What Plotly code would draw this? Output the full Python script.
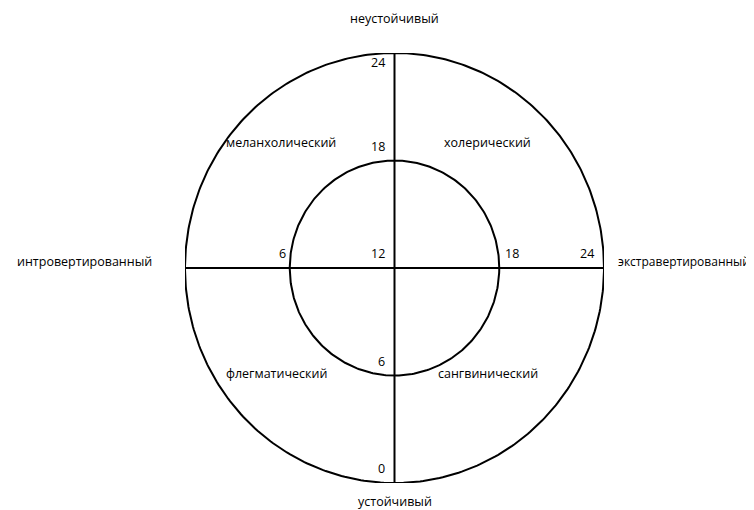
import numpy as np
import plotly.graph_objects as go

# Scale / data
center = [12, 12]
radii = [12, 6]               # outer, inner circle (score units)
vert_ticks = [24, 18, 12, 6, 0]
vert_tick_labels = ["24", "18", "12", "6", "0"]
horiz_ticks = [6, 18, 24]
horiz_tick_labels = ["6", "18", "24"]
axis_labels = ["неустойчивый", "устойчивый", "интровертированный", "экстравертированный"]
axis_label_pos = [(12, 25.95), (12, -1.05), (-5.75, 12.35), (32.45, 12.35)]
axis_label_anchor = ["center", "center", "center", "right"]
axis_label_size = [12.5, 12.5, 12.5, 12]
temperaments = ["меланхолический", "холерический", "флегматический", "сангвинический"]
temperament_pos = [(5.5, 19.0), (17.35, 19.0), (5.25, 6.1), (17.35, 6.1)]

FONT = "Open Sans"
XR = [0, 24]
YR = [0, 24]


def px(x):
    return (x - XR[0]) / (XR[1] - XR[0])


def py(y):
    return (y - YR[0]) / (YR[1] - YR[0])


fig = go.Figure()

t = np.linspace(0, 2 * np.pi, 400)
for r in radii:
    fig.add_trace(go.Scatter(x=center[0] + r * np.cos(t), y=center[1] + r * np.sin(t),
                             mode="lines", line=dict(color="black", width=2),
                             hoverinfo="skip", showlegend=False))

# axes lines
fig.add_trace(go.Scatter(x=[center[0], center[0]], y=[min(vert_ticks), max(vert_ticks)],
                         mode="lines", line=dict(color="black", width=2), showlegend=False))
fig.add_trace(go.Scatter(x=[center[0] - radii[0], center[0] + radii[0]], y=[center[1], center[1]],
                         mode="lines", line=dict(color="black", width=2), showlegend=False))

ann = []
for v, lab in zip(vert_ticks, vert_tick_labels):
    ann.append(dict(x=px(center[0] - 0.45), y=py(v - 0.55 if v == 24 else v + 0.8),
                    text=lab, xanchor="right", yanchor="middle"))
for v, lab in zip(horiz_ticks, horiz_tick_labels):
    if v < 12:
        ann.append(dict(x=px(v - 0.1), y=py(center[1] + 0.8), text=lab, xanchor="right", yanchor="middle"))
    elif v == 24:
        ann.append(dict(x=px(v - 0.45), y=py(center[1] + 0.8), text=lab, xanchor="right", yanchor="middle"))
    else:
        ann.append(dict(x=px(v + 0.2), y=py(center[1] + 0.8), text=lab, xanchor="left", yanchor="middle"))
for lab, (x, y), anc, sz in zip(axis_labels, axis_label_pos, axis_label_anchor, axis_label_size):
    ann.append(dict(x=px(x), y=py(y), text=lab, xanchor=anc, yanchor="middle", font=dict(size=sz)))
for lab, (x, y) in zip(temperaments, temperament_pos):
    ann.append(dict(x=px(x), y=py(y), text=lab, xanchor="center", yanchor="middle"))
for a in ann:
    a.update(xref="paper", yref="paper", showarrow=False)

fig.update_layout(
    width=754, height=510,
    margin=dict(l=177, r=158, t=45, b=35, autoexpand=False),
    plot_bgcolor="white", paper_bgcolor="white",
    font=dict(family=FONT, size=12.5, color="black"),
    xaxis=dict(range=XR, visible=False, fixedrange=True),
    yaxis=dict(range=YR, visible=False, fixedrange=True),
    annotations=ann,
    showlegend=False,
)
fig.write_html("out.html")
